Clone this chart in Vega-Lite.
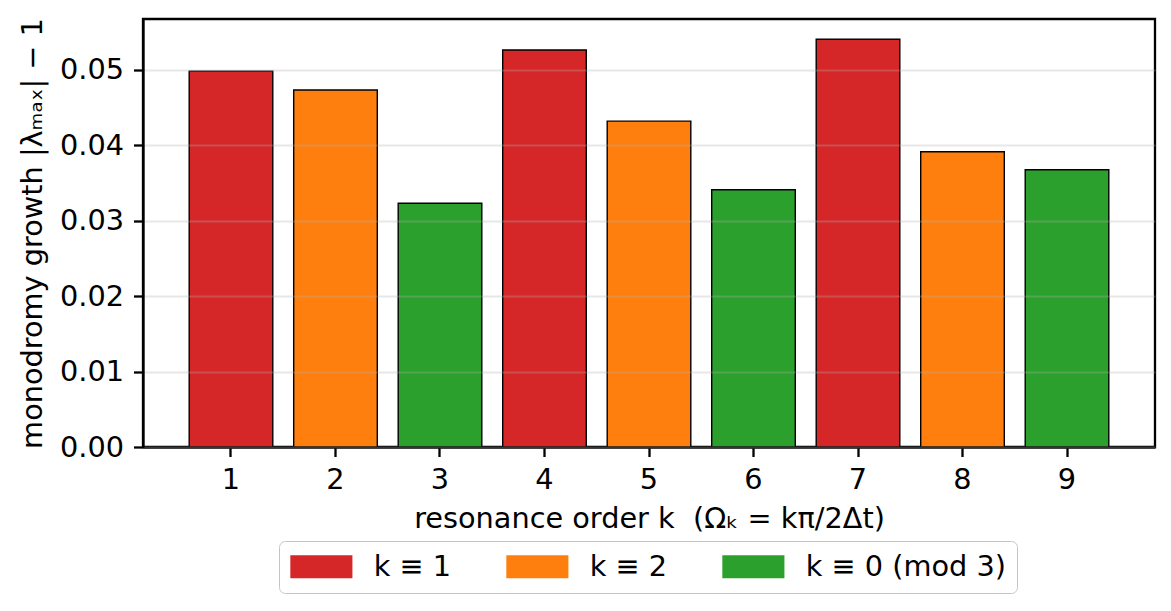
{
  "$schema": "https://vega.github.io/schema/vega-lite/v6.json",
  "autosize": "none",
  "width": 1012,
  "height": 428,
  "padding": {"left": 143, "top": 19, "right": 16, "bottom": 164},
  "background": "white",
  "config": {
    "font": "DejaVu Sans",
    "view": {"stroke": "black", "strokeWidth": 2.3},
    "axis": {
      "labelFont": "DejaVu Sans",
      "titleFont": "DejaVu Sans",
      "labelFontSize": 28.75,
      "titleFontSize": 28.75,
      "titleFontWeight": "normal",
      "labelColor": "black",
      "titleColor": "black",
      "domainColor": "black",
      "domainWidth": 2.3,
      "tickColor": "black",
      "tickWidth": 2.3,
      "tickSize": 9.5
    },
    "legend": {
      "labelFont": "DejaVu Sans",
      "labelFontSize": 28.75,
      "labelColor": "black"
    }
  },
  "data": {
    "values": [
      {"k": 1, "growth": 0.0498, "cls": "k ≡ 1"},
      {"k": 2, "growth": 0.04729, "cls": "k ≡ 2"},
      {"k": 3, "growth": 0.03229, "cls": "k ≡ 0 (mod 3)"},
      {"k": 4, "growth": 0.05259, "cls": "k ≡ 1"},
      {"k": 5, "growth": 0.04317, "cls": "k ≡ 2"},
      {"k": 6, "growth": 0.03407, "cls": "k ≡ 0 (mod 3)"},
      {"k": 7, "growth": 0.05401, "cls": "k ≡ 1"},
      {"k": 8, "growth": 0.03911, "cls": "k ≡ 2"},
      {"k": 9, "growth": 0.03672, "cls": "k ≡ 0 (mod 3)"}
    ]
  },
  "mark": {"type": "bar", "stroke": "black", "strokeWidth": 1.4},
  "encoding": {
    "x": {
      "field": "k",
      "type": "ordinal",
      "scale": {"paddingInner": 0.2, "paddingOuter": 0.442},
      "axis": {
        "title": "resonance order k \u00a0(Ωₖ = kπ/2Δt)",
        "labelAngle": 0,
        "labelPadding": 9,
        "titlePadding": 10,
        "grid": false
      }
    },
    "y": {
      "field": "growth",
      "type": "quantitative",
      "scale": {"domain": [0, 0.0567], "nice": false},
      "axis": {
        "title": "monodromy growth |λₘₐₓ| − 1",
        "values": [0, 0.01, 0.02, 0.03, 0.04, 0.05],
        "format": ".2f",
        "labelPadding": 10,
        "titlePadding": 12,
        "grid": true,
        "gridColor": "#b0b0b0",
        "gridOpacity": 0.3,
        "gridWidth": 2,
        "zindex": 1
      }
    },
    "color": {
      "field": "cls",
      "type": "nominal",
      "scale": {
        "domain": ["k ≡ 1", "k ≡ 2", "k ≡ 0 (mod 3)"],
        "range": ["#d62728", "#ff7f0e", "#2ca02c"]
      },
      "legend": {
        "title": null,
        "orient": "none",
        "direction": "horizontal",
        "legendX": 136,
        "legendY": 522,
        "padding": 11,
        "fillColor": "white",
        "strokeColor": "#c4c4c4",
        "cornerRadius": 6,
        "symbolType": "M-2.7,-1H2.7V1H-2.7Z",
        "symbolSize": 529,
        "symbolStrokeWidth": 0,
        "symbolOpacity": 1,
        "symbolOffset": 17,
        "labelOffset": 38,
        "labelLimit": 400,
        "columnPadding": 54
      }
    }
  }
}
